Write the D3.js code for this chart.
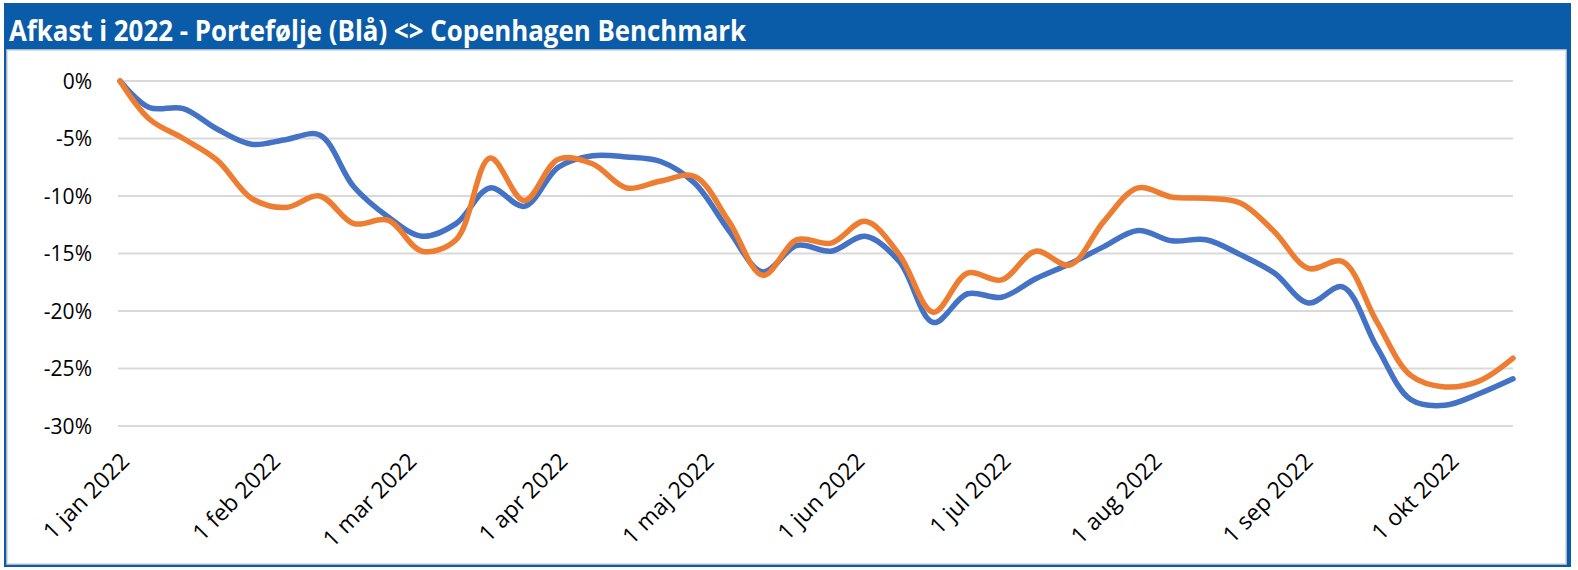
<!DOCTYPE html>
<html>
<head>
<meta charset="utf-8">
<script src="https://cdn.jsdelivr.net/npm/d3@7"></script>
<style>
  body { margin: 0; background: #fff; }
  svg { display: block; }
</style>
</head>
<body>
<div id="chart"></div>
<script>
// weekly observations (Fridays), values in %
var dates = ["2022-01-01","2022-01-07","2022-01-14","2022-01-21","2022-01-28","2022-02-04","2022-02-11",
  "2022-02-18","2022-02-25","2022-03-04","2022-03-11","2022-03-18","2022-03-25","2022-04-01","2022-04-08",
  "2022-04-15","2022-04-22","2022-04-29","2022-05-06","2022-05-13","2022-05-20","2022-05-27","2022-06-03",
  "2022-06-10","2022-06-17","2022-06-24","2022-07-01","2022-07-08","2022-07-15","2022-07-22","2022-07-29",
  "2022-08-05","2022-08-12","2022-08-19","2022-08-26","2022-09-02","2022-09-09","2022-09-16","2022-09-23",
  "2022-09-30","2022-10-07","2022-10-14"];

var portfolio = [0, -2.3, -2.4, -4.2, -5.5, -5.1, -4.7, -9.2, -11.8, -13.5, -12.4, -9.3, -10.9, -7.5, -6.5,
  -6.6, -7.0, -8.9, -13.0, -16.6, -14.3, -14.8, -13.5, -15.7, -21.0, -18.5, -18.8, -17.2, -15.9, -14.4, -13.0,
  -13.9, -13.8, -15.1, -16.7, -19.3, -17.9, -23.1, -27.7, -28.2, -27.2, -25.9];

var benchmark = [0, -3.3, -5.0, -6.9, -10.2, -11.0, -10.0, -12.4, -12.1, -14.8, -13.8, -6.7, -10.4, -6.8, -7.2,
  -9.3, -8.7, -8.3, -12.2, -16.9, -13.8, -14.1, -12.2, -15.1, -20.1, -16.7, -17.3, -14.8, -16.0, -12.2, -9.3,
  -10.1, -10.2, -10.6, -13.1, -16.3, -15.7, -20.9, -25.6, -26.6, -26.1, -24.1];

var yTicks = [0, -5, -10, -15, -20, -25, -30];
var monthNames = ["jan", "feb", "mar", "apr", "maj", "jun", "jul", "aug", "sep", "okt"];

var title = "Afkast i 2022 - Portefølje (Blå) <> Copenhagen Benchmark";

var width = 1578, height = 570;
var frameColor = "#0b5ca8";

var parse = d3.timeParse("%Y-%m-%d");
var dts = dates.map(parse);

var svg = d3.select("#chart")
    .append("svg")
    .attr("width", width)
    .attr("height", height);

// frame + header
svg.append("rect")
    .attr("x", 4).attr("y", 3)
    .attr("width", 1567).attr("height", 564)
    .style("fill", frameColor);

svg.append("rect")
    .attr("x", 7).attr("y", 50)
    .attr("width", 1559).attr("height", 514)
    .style("fill", "#fff")
    .style("stroke", "#d6d6d6")
    .style("stroke-width", 1.5);

svg.append("text")
    .attr("x", 9)
    .attr("y", 41)
    .attr("textLength", 737)
    .attr("lengthAdjust", "spacingAndGlyphs")
    .style("font-family", "'Open Sans', sans-serif")
    .style("font-weight", "bold")
    .style("font-size", "28px")
    .style("fill", "#fff")
    .text(title);

var x = d3.scaleTime()
    .domain([dts[0], dts[dts.length - 1]])
    .range([120, 1513]);

var y = d3.scaleLinear()
    .domain([-30, 0])
    .range([426, 81]);

// gridlines
svg.append("g")
    .selectAll("line")
    .data(yTicks)
    .enter().append("line")
    .attr("x1", 118)
    .attr("x2", 1513)
    .attr("y1", function (d) { return y(d); })
    .attr("y2", function (d) { return y(d); })
    .style("stroke", "#d9d9d9")
    .style("stroke-width", 2);

// y axis labels
svg.append("g")
    .selectAll("text")
    .data(yTicks)
    .enter().append("text")
    .attr("x", 92)
    .attr("y", function (d) { return y(d); })
    .attr("dy", "0.36em")
    .attr("text-anchor", "end")
    .style("font-family", "'Open Sans', sans-serif")
    .style("font-size", "21px")
    .style("fill", "#000")
    .text(function (d) { return d + "%"; });

// x axis labels
var months = d3.timeMonth.range(new Date(2022, 0, 1), new Date(2022, 9, 2));
svg.append("g")
    .selectAll("text")
    .data(months)
    .enter().append("text")
    .attr("transform", function (d) { return "translate(" + (x(d) - 1) + ",451) rotate(-45)"; })
    .attr("dy", "0.72em")
    .attr("text-anchor", "end")
    .style("font-family", "'Open Sans', sans-serif")
    .style("font-size", "23px")
    .style("fill", "#000")
    .text(function (d) { return "1 " + monthNames[d.getMonth()] + " 2022"; });

var line = d3.line()
    .x(function (d, i) { return x(dts[i]); })
    .y(function (d) { return y(d); })
    .curve(d3.curveCatmullRom.alpha(0.5));

svg.append("path")
    .datum(portfolio)
    .attr("d", line)
    .style("fill", "none")
    .style("stroke", "#4472c4")
    .style("stroke-width", 5.5)
    .style("stroke-linecap", "round");

svg.append("path")
    .datum(benchmark)
    .attr("d", line)
    .style("fill", "none")
    .style("stroke", "#ed7d31")
    .style("stroke-width", 5.5)
    .style("stroke-linecap", "round");
</script>
</body>
</html>
